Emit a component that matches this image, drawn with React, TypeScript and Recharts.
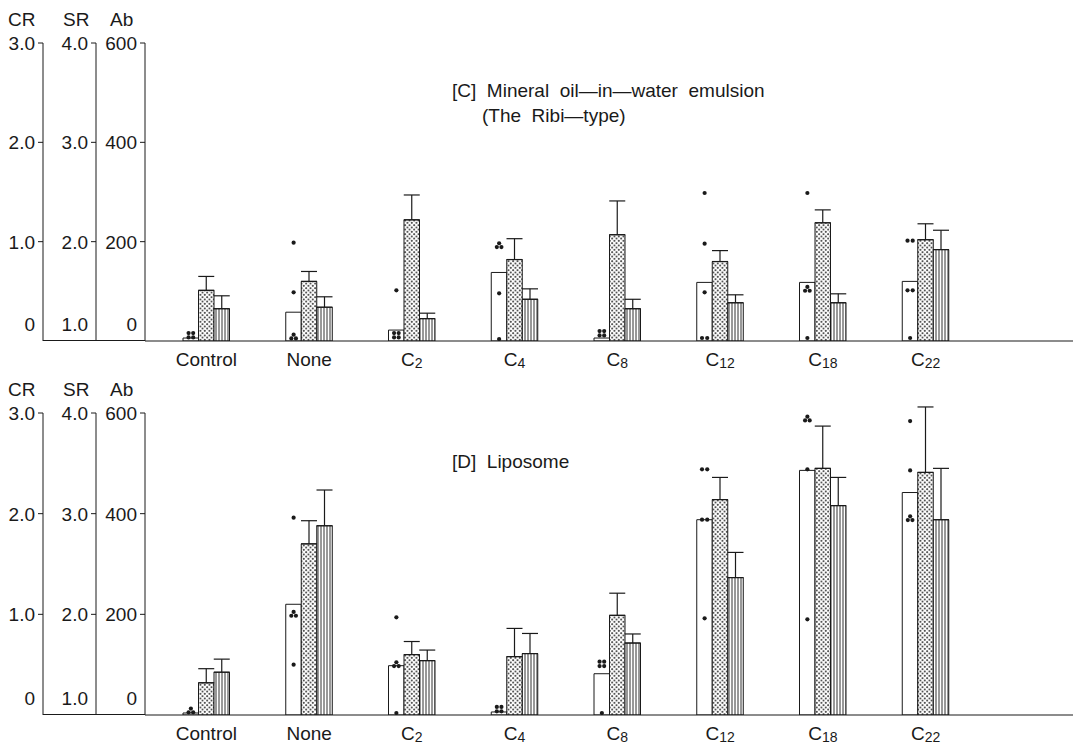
import { Bar, ComposedChart, ErrorBar, Scatter, XAxis, YAxis } from "recharts";

const categories = ["Control", "None", "C2", "C4", "C8", "C12", "C18", "C22"];

// [C] mineral oil-in-water emulsion (Ribi type)
const crMeanC = [0.03, 0.29, 0.11, 0.69, 0.03, 0.59, 0.59, 0.6];
const srMeanC = [1.51, 1.6, 2.22, 1.82, 2.07, 1.8, 2.19, 2.02];
const srErrC = [0.14, 0.1, 0.25, 0.21, 0.34, 0.11, 0.13, 0.16];
const abMeanC = [65, 68, 45, 84, 65, 77, 77, 184];
const abErrC = [26, 21, 11, 21, 19, 16, 18, 39];
// individual CR values: [value, animals at that value]
const crPointsC = [
  [[0.05, 4]],
  [[0.99, 1], [0.49, 1], [0.04, 3]],
  [[0.51, 1], [0.05, 4]],
  [[0.96, 3], [0.48, 1], [0.02, 1]],
  [[0.07, 4]],
  [[1.49, 1], [0.98, 1], [0.49, 1], [0.03, 2]],
  [[1.49, 1], [0.52, 3], [0.03, 1]],
  [[1.01, 2], [0.51, 2], [0.03, 1]],
];

// [D] liposome
const crMeanD = [0.02, 1.1, 0.49, 0.03, 0.41, 1.94, 2.43, 2.21];
const srMeanD = [1.32, 2.7, 1.6, 1.58, 1.99, 3.14, 3.45, 3.41];
const srErrD = [0.14, 0.23, 0.13, 0.28, 0.22, 0.22, 0.42, 0.65];
const abMeanD = [85, 376, 108, 122, 143, 273, 416, 388];
const abErrD = [26, 71, 21, 40, 18, 50, 56, 102];
const crPointsD = [
  [[0.04, 3]],
  [[1.96, 1], [1.0, 3], [0.5, 1]],
  [[0.97, 1], [0.5, 3], [0.02, 1]],
  [[0.05, 4]],
  [[0.5, 4], [0.02, 1]],
  [[2.44, 2], [1.94, 2], [0.96, 1]],
  [[2.94, 3], [2.44, 1], [0.95, 1]],
  [[2.92, 1], [2.43, 1], [1.95, 3]],
];

const crTicks = [0, 1, 2, 3];
const srTicks = [1, 2, 3, 4];
const abTicks = [0, 200, 400, 600];

const FONT = "'Liberation Sans', Arial, sans-serif";
const INK = "#1a1a1a";
const BAR = 15.5;

function buildRows(cr, sr, srErr, ab, abErr, pts) {
  return categories.map((name, i) => {
    const row: any = {
      name,
      cr: cr[i],
      sr: sr[i],
      srErr: [0, srErr[i]],
      ab: ab[i],
      abErr: [0, abErr[i]],
    };
    pts[i].forEach(([v, n], k) => {
      row[`p${k}`] = v;
      row[`n${k}`] = n;
    });
    return row;
  });
}

const rowsC = buildRows(crMeanC, srMeanC, srErrC, abMeanC, abErrC, crPointsC);
const rowsD = buildRows(crMeanD, srMeanD, srErrD, abMeanD, abErrD, crPointsD);

function ValTick(props: any) {
  const { x, y, payload, min, fmt } = props;
  const v = payload.value;
  const isMin = v === min;
  return (
    <g>
      {!isMin && <line x1={x + 3} x2={x + 8} y1={y} y2={y} stroke={INK} strokeWidth={1} />}
      <text x={x} y={isMin ? y - 17 : y} dy="0.36em" textAnchor="end" fontSize={19} fontFamily={FONT} fill={INK}>
        {fmt(v)}
      </text>
    </g>
  );
}

function CatTick(props: any) {
  const { x, y, payload } = props;
  const m = /^C(\d+)$/.exec(payload.value);
  return (
    <text x={x} y={y + 17} textAnchor="middle" fontSize={19} fontFamily={FONT} fill={INK}>
      {m ? (
        <>
          C
          <tspan fontSize={14} dy={2}>
            {m[1]}
          </tspan>
        </>
      ) : (
        payload.value
      )}
    </text>
  );
}

const dotShape = (k: number) => (props: any) => {
  const { cx, cy, payload } = props;
  if (!payload || payload[`p${k}`] == null || !Number.isFinite(cx) || !Number.isFinite(cy)) return <g />;
  const n = payload[`n${k}`];
  const x = cx - BAR;
  let offs: number[][] = [[0, 0]];
  if (n === 2) offs = [[-2.6, 0], [2.6, 0]];
  if (n === 3) offs = [[-2.3, 1.4], [2.3, 1.4], [0, -2.4]];
  if (n >= 4) offs = [[-2.3, 1.4], [2.3, 1.4], [-2.3, -3], [2.3, -3]];
  return (
    <g>
      {offs.map(([dx, dy], j) => (
        <circle key={j} cx={x + dx} cy={cy + dy} r={2.1} fill={INK} />
      ))}
    </g>
  );
};

function Panel({ rows, id, top, plotH, title }: any) {
  const height = top + plotH + 30;
  return (
    <div style={{ position: "relative", width: 1073, height }}>
      <ComposedChart
        width={1073}
        height={height}
        data={rows}
        margin={{ top, right: 0, bottom: 0, left: 0 }}
        barGap={0}
        barSize={BAR}
      >
        <defs>
          <pattern id={`dots${id}`} width={4.5} height={4.5} patternUnits="userSpaceOnUse">
            <rect width={4.5} height={4.5} fill="#fff" />
            <circle cx={1.1} cy={1.1} r={0.95} fill={INK} />
            <circle cx={3.35} cy={3.35} r={0.95} fill={INK} />
          </pattern>
          <pattern id={`stripes${id}`} width={3} height={4} patternUnits="userSpaceOnUse">
            <rect width={3} height={4} fill="#fff" />
            <line x1={1} x2={1} y1={0} y2={4} stroke={INK} strokeWidth={0.9} />
          </pattern>
        </defs>
        <XAxis
          dataKey="name"
          type="category"
          interval={0}
          padding={{ left: 10, right: 104 }}
          tickLine={false}
          axisLine={{ stroke: INK, strokeWidth: 1.2 }}
          height={30}
          tick={(p: any) => <CatTick {...p} />}
        />
        <YAxis
          yAxisId="a_ab"
          type="number"
          domain={[0, 600]}
          ticks={abTicks}
          interval={0}
          width={49}
          tickLine={false}
          tickSize={5}
          tickMargin={3}
          axisLine={{ stroke: INK }}
          allowDataOverflow
          tick={(p: any) => <ValTick {...p} min={0} fmt={(v: number) => String(v)} />}
        />
        <YAxis
          yAxisId="b_sr"
          type="number"
          domain={[1, 4]}
          ticks={srTicks}
          interval={0}
          width={53}
          tickLine={false}
          tickSize={5}
          tickMargin={3}
          axisLine={{ stroke: INK }}
          allowDataOverflow
          tick={(p: any) => <ValTick {...p} min={1} fmt={(v: number) => v.toFixed(1)} />}
        />
        <YAxis
          yAxisId="c_cr"
          type="number"
          domain={[0, 3]}
          ticks={crTicks}
          interval={0}
          width={35}
          tickLine={false}
          tickSize={5}
          tickMargin={3}
          axisLine={{ stroke: INK }}
          allowDataOverflow
          tick={(p: any) => <ValTick {...p} min={0} fmt={(v: number) => (v === 0 ? "0" : v.toFixed(1))} />}
        />
        <Bar yAxisId="c_cr" dataKey="cr" fill="#fff" stroke={INK} strokeWidth={1} isAnimationActive={false} />
        <Bar yAxisId="b_sr" dataKey="sr" fill={`url(#dots${id})`} stroke={INK} strokeWidth={1} isAnimationActive={false}>
          <ErrorBar dataKey="srErr" direction="y" width={8} stroke={INK} strokeWidth={1.2} />
        </Bar>
        <Bar yAxisId="a_ab" dataKey="ab" fill={`url(#stripes${id})`} stroke={INK} strokeWidth={1} isAnimationActive={false}>
          <ErrorBar dataKey="abErr" direction="y" width={8} stroke={INK} strokeWidth={1.2} />
        </Bar>
        {[0, 1, 2, 3].map((k) => (
          <Scatter key={k} yAxisId="c_cr" dataKey={`p${k}`} shape={dotShape(k)} isAnimationActive={false} />
        ))}
      </ComposedChart>
      <div style={{ position: "absolute", left: 35, top: top + plotH - 1, width: 102, borderTop: `1.2px solid ${INK}` }} />
      {[
        ["CR", 0],
        ["SR", 55],
        ["Ab", 102],
      ].map(([t, l]) => (
        <div
          key={t as string}
          style={{ position: "absolute", left: l as number, top: top - 34, fontSize: 19, lineHeight: "22px", fontFamily: FONT, color: INK }}
        >
          {t}
        </div>
      ))}
      {title.map(([t, l, tp]: any, i: number) => (
        <div
          key={i}
          style={{ position: "absolute", left: l, top: tp, fontSize: 19, lineHeight: "22px", fontFamily: FONT, color: INK, whiteSpace: "pre" }}
        >
          {t}
        </div>
      ))}
    </div>
  );
}

export default function App() {
  return (
    <div style={{ width: 1073, fontFamily: FONT }}>
      <Panel
        rows={rowsC}
        id="C"
        top={35}
        plotH={298}
        title={[
          ["[C]  Mineral  oil—in—water  emulsion", 444, 72],
          ["(The  Ribi—type)", 474, 97],
        ]}
      />
      <Panel rows={rowsD} id="D" top={42} plotH={302} title={[["[D]  Liposome", 444, 80]]} />
    </div>
  );
}
